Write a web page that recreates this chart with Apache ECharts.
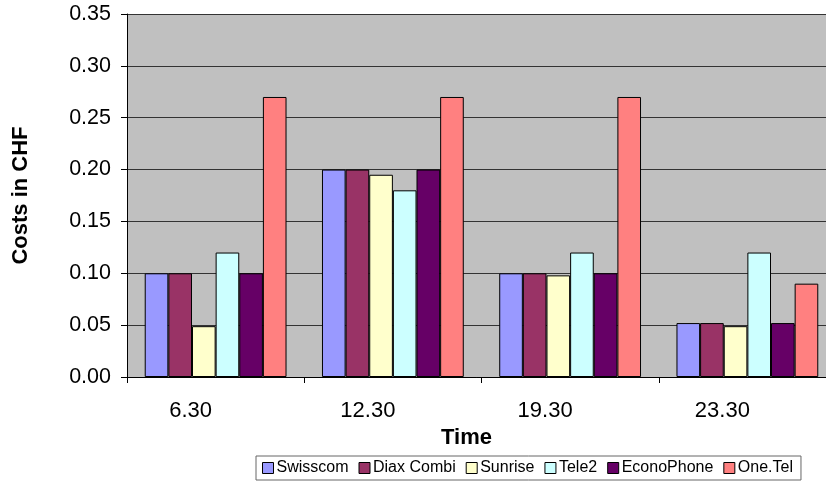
<!DOCTYPE html>
<html>
<head>
<meta charset="utf-8">
<script src="https://cdn.jsdelivr.net/npm/echarts@6/dist/echarts.min.js"></script>
<style>html,body{margin:0;padding:0;background:#fff;}#c{width:826px;height:496px;}</style>
</head>
<body>
<div id="c"></div>
<script>
const categories = ['6.30', '12.30', '19.30', '23.30'];
const seriesNames = ['Swisscom', 'Diax Combi', 'Sunrise', 'Tele2', 'EconoPhone', 'One.Tel'];
const swisscom = [0.10, 0.20, 0.10, 0.052];
const diaxCombi = [0.10, 0.20, 0.10, 0.052];
const sunrise = [0.049, 0.195, 0.098, 0.049];
const tele2 = [0.12, 0.18, 0.12, 0.12];
const econoPhone = [0.10, 0.20, 0.10, 0.052];
const oneTel = [0.27, 0.27, 0.27, 0.09];
const yTicks = [0, 0.05, 0.10, 0.15, 0.20, 0.25, 0.30, 0.35];
const colors = ['#9999FF', '#993366', '#FFFFCC', '#CCFFFF', '#660066', '#FF8080'];
const values = [swisscom, diaxCombi, sunrise, tele2, econoPhone, oneTel];

const chart = echarts.init(document.getElementById('c'), null, {renderer: 'canvas'});
const font = 'Liberation Sans, Arial, sans-serif';
chart.setOption({
  animation: false,
  backgroundColor: '#ffffff',
  grid: {left: 127, top: 14, width: 709, height: 363, containLabel: false,
         outerBoundsMode: 'none',
         show: true, backgroundColor: '#C0C0C0', borderWidth: 0},
  legend: {
    data: seriesNames,
    left: 256, top: 456,
    orient: 'horizontal',
    itemWidth: 11, itemHeight: 11, itemGap: 10,
    padding: [4, 8, 4, 6],
    borderColor: '#666', borderWidth: 1,
    icon: 'rect',
    textStyle: {fontFamily: font, fontSize: 16, color: '#000', padding: [0, 0, 0, -2]},
    itemStyle: {borderColor: '#000', borderWidth: 1}
  },
  xAxis: {
    type: 'category',
    data: categories,
    name: 'Time',
    nameLocation: 'middle',
    nameGap: 41,
    nameTextStyle: {fontFamily: font, fontSize: 22, fontWeight: 'bold', color: '#000', padding: [0, 30, 0, 0]},
    axisLine: {lineStyle: {color: '#000', width: 1}},
    axisTick: {show: true, length: 6, alignWithLabel: false, lineStyle: {color: '#000'}},
    axisLabel: {fontFamily: font, fontSize: 22, color: '#000', margin: 23, padding: [0, 50, 0, 0]},
    splitLine: {show: false}
  },
  yAxis: {
    type: 'value',
    min: 0, max: 0.35, interval: 0.05,
    name: 'Costs in CHF',
    nameLocation: 'middle',
    nameGap: 95,
    nameRotate: 90,
    nameTextStyle: {fontFamily: font, fontSize: 22, fontWeight: 'bold', color: '#000'},
    axisLine: {show: true, lineStyle: {color: '#000', width: 1}},
    axisTick: {show: true, length: 6, lineStyle: {color: '#000'}},
    axisLabel: {fontFamily: font, fontSize: 21.5, color: '#000', margin: 16,
      formatter: v => {
        const t = yTicks.find(x => Math.abs(x - v) < 1e-9);
        return (t !== undefined ? t : v).toFixed(2);
      }},
    splitLine: {show: true, lineStyle: {color: '#333', width: 1}}
  },
  series: seriesNames.map((n, i) => ({
    name: n,
    type: 'bar',
    data: values[i],
    barGap: '0%',
    barCategoryGap: '20%',
    itemStyle: {color: colors[i], borderColor: '#000', borderWidth: 1}
  }))
});
</script>
</body>
</html>
